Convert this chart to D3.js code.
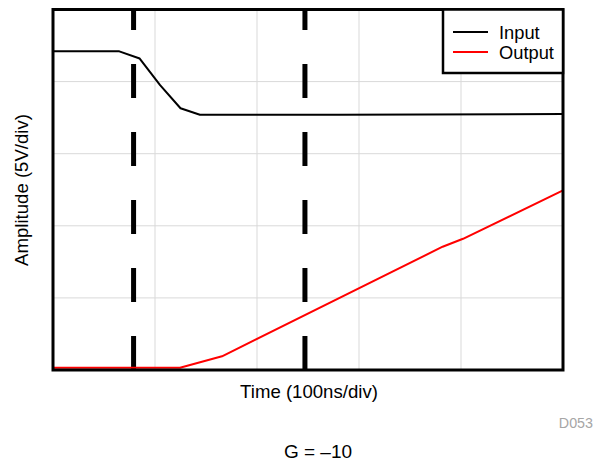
<!DOCTYPE html>
<html><head><meta charset="utf-8">
<script src="https://cdn.jsdelivr.net/npm/d3@7"></script>
<style>body{margin:0;background:#fff;}svg{display:block;font-family:"Liberation Sans",Arial,Helvetica,sans-serif;}</style>
</head><body>
<svg id="chart" width="597" height="464"></svg>
<script>
// data in divisions (time div, amplitude div)
const inputX = [0, 0.65, 0.85, 1.05, 1.25, 1.44, 2.8, 5];
const inputY = [4.42, 4.42, 4.32, 3.95, 3.63, 3.54, 3.54, 3.55];
const outputX = [0, 1.245, 1.657, 3.82, 4.02, 5];
const outputY = [0.03, 0.03, 0.19, 1.71, 1.82, 2.49];
const markerX = [0.79, 2.47];
const gridTicks = [1, 2, 3, 4];
const seriesNames = ["Input", "Output"];
const seriesColors = ["#000000", "#ff0000"];

const L = 53, R = 563, T = 9.5, B = 370;
const svg = d3.select("#chart");
const x = d3.scaleLinear().domain([0, 5]).range([L, R]);
const y = d3.scaleLinear().domain([0, 5]).range([B, T]);

// grid
svg.append("g").selectAll("line").data(gridTicks).join("line")
  .attr("x1", d => x(d)).attr("x2", d => x(d)).attr("y1", T).attr("y2", B)
  .attr("stroke", "#d9d9d9").attr("stroke-width", 1);
svg.append("g").selectAll("line").data(gridTicks).join("line")
  .attr("y1", d => y(d)).attr("y2", d => y(d)).attr("x1", L).attr("x2", R)
  .attr("stroke", "#d9d9d9").attr("stroke-width", 1);

// dashed markers (drawn bottom-up)
svg.append("g").selectAll("line").data(markerX).join("line")
  .attr("x1", d => x(d)).attr("x2", d => x(d)).attr("y1", B).attr("y2", T)
  .attr("stroke", "#000").attr("stroke-width", 5).attr("stroke-dasharray", "34,34");

const line = d3.line().x(d => x(d[0])).y(d => y(d[1]));
svg.append("path").datum(inputX.map((v, i) => [v, inputY[i]]))
  .attr("d", line).attr("fill", "none").attr("stroke", seriesColors[0]).attr("stroke-width", 2).attr("stroke-linejoin", "round");
svg.append("path").datum(outputX.map((v, i) => [v, outputY[i]]))
  .attr("d", line).attr("fill", "none").attr("stroke", seriesColors[1]).attr("stroke-width", 2).attr("stroke-linejoin", "round");

// frame
svg.append("rect").attr("x", L).attr("y", T).attr("width", R - L).attr("height", B - T)
  .attr("fill", "none").attr("stroke", "#000").attr("stroke-width", 3);

// legend
const lg = svg.append("g");
lg.append("rect").attr("x", 443).attr("y", T).attr("width", R - 443).attr("height", 73 - T)
  .attr("fill", "#fff").attr("stroke", "#000").attr("stroke-width", 2.5);
seriesNames.forEach((n, i) => {
  const yy = 32 + i * 20;
  lg.append("line").attr("x1", 453).attr("x2", 488).attr("y1", yy).attr("y2", yy)
    .attr("stroke", seriesColors[i]).attr("stroke-width", 2);
  lg.append("text").attr("x", 499).attr("y", yy + 6.5).attr("font-size", 18.3).attr("fill", "#000").text(n);
});

// axis titles
svg.append("text").attr("x", 309).attr("y", 398).attr("text-anchor", "middle")
  .attr("font-size", 18.6).text("Time (100ns/div)");
svg.append("text").attr("transform", "translate(28,190) rotate(-90)").attr("text-anchor", "middle")
  .attr("font-size", 18.6).text("Amplitude (5V/div)");
svg.append("text").attr("x", 593).attr("y", 428).attr("text-anchor", "end")
  .attr("font-size", 14.3).attr("fill", "#a6a6a6").text("D053");
svg.append("text").attr("x", 318).attr("y", 458).attr("text-anchor", "middle")
  .attr("font-size", 19).text("G = \u201310");
</script>
</body></html>
